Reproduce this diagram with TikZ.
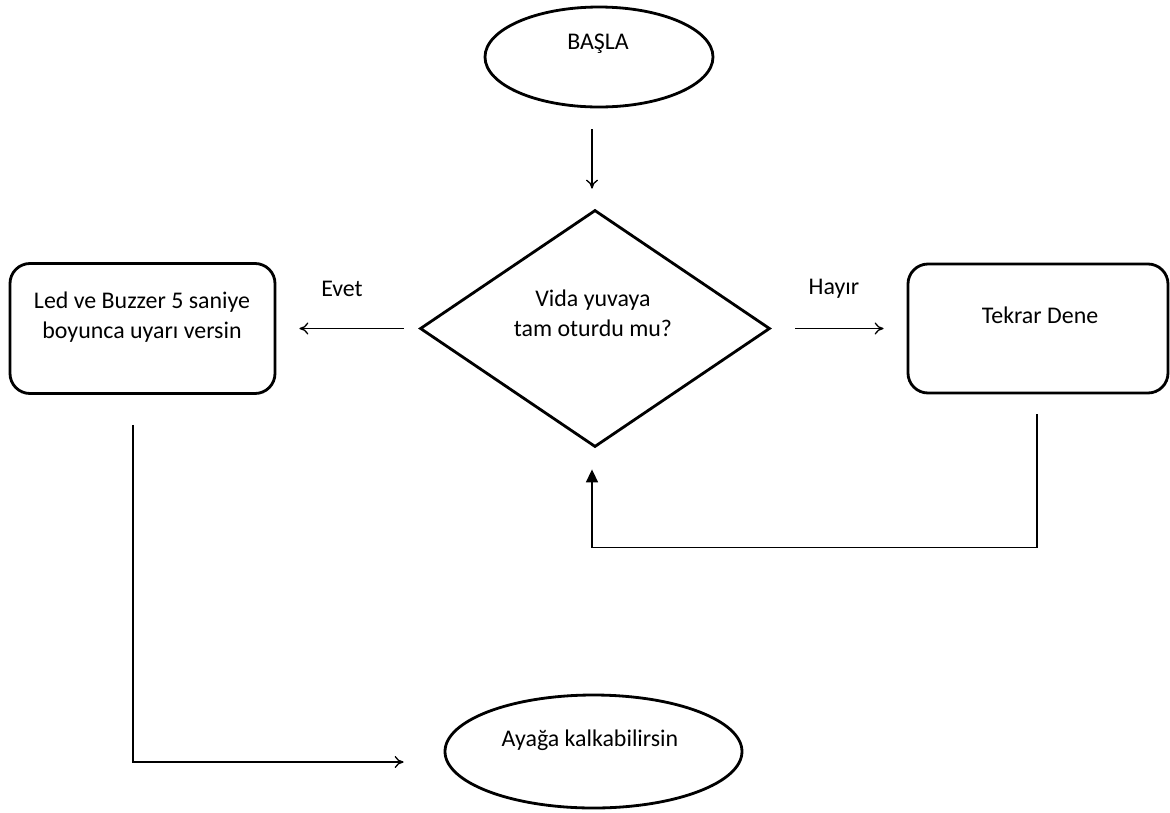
\documentclass[tikz,border=0pt]{standalone}
\usepackage{fontspec}
\setmainfont{Carlito}
\usepackage{tikz}
\usetikzlibrary{arrows.meta,positioning,calc,shapes.geometric}

\begin{document}
\begin{tikzpicture}[
    sekil/.style={draw=black, line width=1.6pt, inner sep=0pt},
    yazi/.style={inner sep=0pt, align=center, font=\fontsize{13.6pt}{17pt}\selectfont},
    ok/.style={line width=0.75pt, -{To[length=0.18cm,width=0.24cm]}},
    geri/.style={line width=0.95pt, -{Triangle[length=0.26cm,width=0.24cm]}}]
\useasboundingbox (0,0) rectangle (23.4,-16.24);
% sekiller
\node[sekil, ellipse, minimum width=4.56cm, minimum height=2.0cm] (basla) at (11.98,-1.14) {};
\node[sekil, diamond, minimum width=7.0cm, minimum height=4.74cm] (karar) at (11.9,-6.57) {};
\node[sekil, rounded corners=0.4cm, minimum width=5.3cm, minimum height=2.6cm] (uyari) at (2.85,-6.57) {};
\node[sekil, rounded corners=0.4cm, minimum width=5.2cm, minimum height=2.58cm] (tekrar) at (20.76,-6.57) {};
\node[sekil, ellipse, minimum width=5.94cm, minimum height=2.26cm] (bitis) at (11.87,-15.03) {};
% yazilar
\node[yazi] (tbasla) at (11.96,-0.88) {BAŞLA};
\node[yazi] (tkarar) at (11.86,-6.27) {Vida yuvaya\\tam oturdu mu?};
\node[yazi] (tuyari) at (2.84,-6.34) {Led ve Buzzer 5 saniye\\boyunca uyarı versin};
\node[yazi] (ttekrar) at (20.8,-6.3) {Tekrar Dene};
\node[yazi] (tbitis) at (11.8,-14.8) {Ayağa kalkabilirsin};
\node[yazi] (evet) at (6.84,-5.78) {Evet};
\node[yazi] (hayir) at (16.68,-5.78) {Hayır};
% oklar
\draw[ok, shorten <=0.42cm, shorten >=0.4cm] ([xshift=-0.06cm]karar.north |- basla.south) -- ([xshift=-0.06cm]karar.north);
\draw[ok, shorten <=0.3cm, shorten >=0.46cm] (karar.west) -- (uyari.east);
\draw[ok, shorten <=0.48cm, shorten >=0.46cm] (karar.east) -- (tekrar.west);
\draw[geri] ([xshift=-0.02cm,yshift=-0.4cm]tekrar.south) -- ++(0,-2.66) -| ([xshift=-0.06cm,yshift=-0.42cm]karar.south);
\draw[ok] ([xshift=-0.19cm,yshift=-0.6cm]uyari.south) |- ([xshift=-0.8cm,yshift=-0.21cm]bitis.west);
\end{tikzpicture}
\end{document}
